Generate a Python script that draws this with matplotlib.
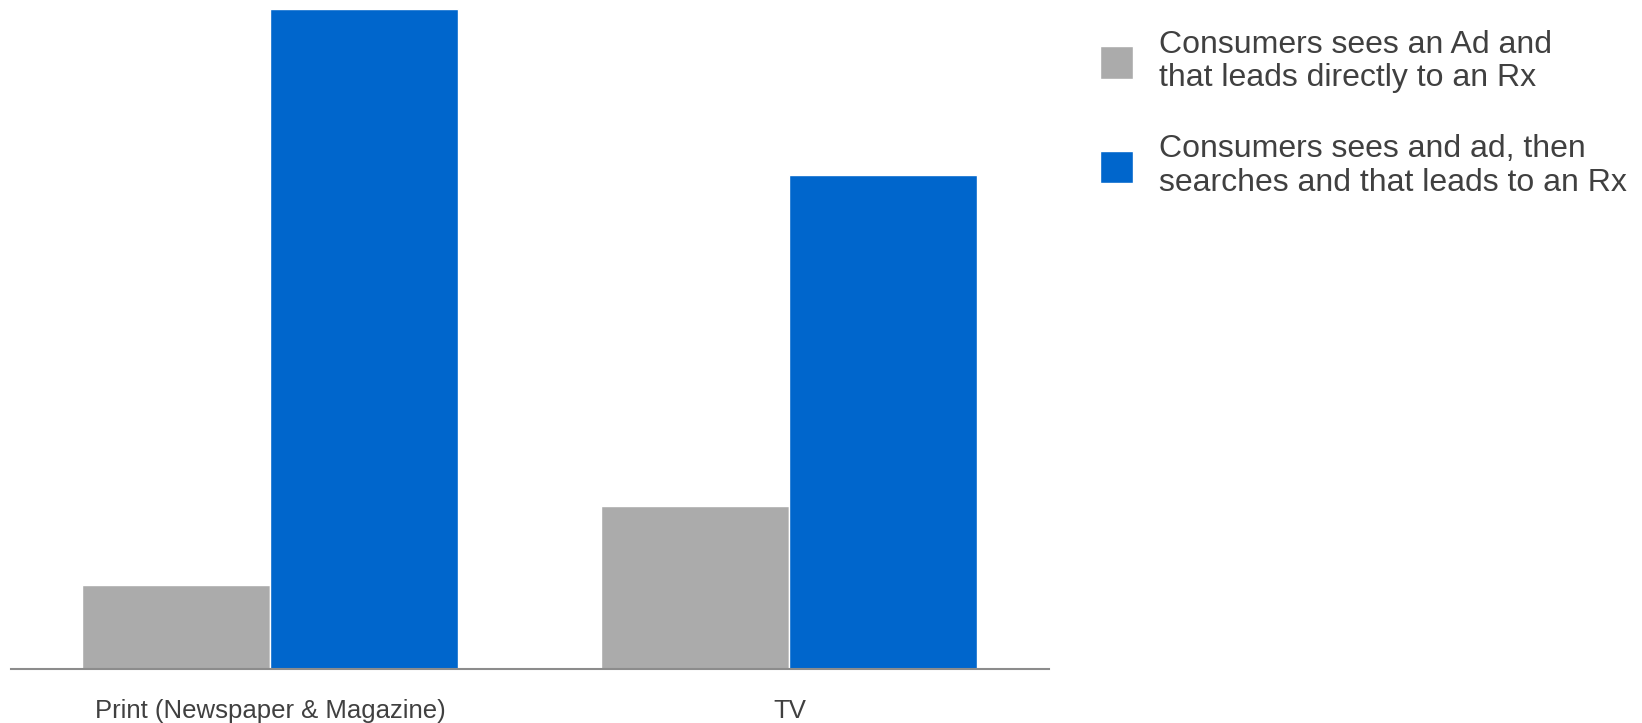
import matplotlib
matplotlib.use("Agg")
import matplotlib.pyplot as plt
import numpy as np

categories = ["Print (Newspaper & Magazine)", "TV"]
series_names = ["Consumers sees an Ad and\nthat leads directly to an Rx",
                "Consumers sees and ad, then\nsearches and that leads to an Rx"]
direct_values = [12.7, 24.6]
search_values = [100.0, 74.8]
colors = ["#ABABAB", "#0066CC"]

plt.rcParams['font.family'] = ['Liberation Sans', 'DejaVu Sans']

fig = plt.figure(figsize=(16.42, 7.23), dpi=100)
ax = fig.add_axes([10.5/1642, 1-668.5/723, (1049-10.5)/1642, (668.5-9)/723])

x = np.arange(len(categories))
w = 0.362
b1 = ax.bar(x - w/2, direct_values, width=w, color=colors[0], edgecolor="white", linewidth=1, label=series_names[0])
b2 = ax.bar(x + w/2, search_values, width=w, color=colors[1], edgecolor="white", linewidth=1, label=series_names[1])

ax.set_xlim(-0.5, 1.5)
ax.set_ylim(0, 100)
ax.set_xticks(x)
ax.set_xticklabels(categories, fontsize=18.5, color="#404040")
ax.tick_params(axis='x', length=0, pad=22)
ax.set_yticks([])
for s in ["top", "right", "left"]:
    ax.spines[s].set_visible(False)
ax.spines["bottom"].set_color("#8C8C8C")
ax.spines["bottom"].set_linewidth(1.5)
ax.spines["bottom"].set_zorder(5)

leg = fig.legend(handles=[b1, b2], labels=series_names, loc="upper left",
                 bbox_to_anchor=(1100/1642, 1-30/723), frameon=False,
                 fontsize=23, handlelength=1.02, handleheight=1.18,
                 handletextpad=0.82, labelspacing=1.28, borderpad=0, borderaxespad=0)
for t in leg.get_texts():
    t.set_color("#404040")
    t.set_linespacing(1.15)

fig.savefig("out.png", dpi=100)
